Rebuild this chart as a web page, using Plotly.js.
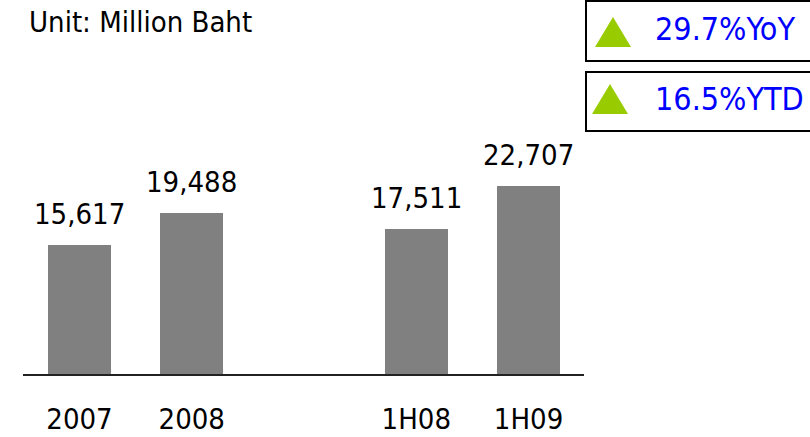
<!DOCTYPE html>
<html>
<head>
<meta charset="utf-8">
<script src="https://cdn.plot.ly/plotly-3.0.1.min.js"></script>
<style>
  html, body { margin: 0; padding: 0; background: #fff; }
  #chart { width: 810px; height: 437px; }
</style>
</head>
<body>
<div id="chart"></div>
<script>
// Revenue by period (million baht)
const categories = ['2007', '2008', '1H08', '1H09'];
const revenue = [15617, 19488, 17511, 22707];

// Growth callouts
const growthLabels = ['29.7%YoY', '16.5%YTD'];

// Page geometry
const W = 810, H = 437;
const M = { l: 23, r: 226, t: 0, b: 63 };
const plotW = W - M.l - M.r;
const plotH = H - M.t - M.b;
const px = x => (x - M.l) / plotW;          // pixel column -> paper x
const py = y => (H - M.b - y) / plotH;      // pixel row -> paper y

// Annual bars, an empty slot, then the half-year bars
const slots = categories.map((c, i) => i + (i >= 2 ? 1 : 0));

const FONT = '"DejaVu Sans Condensed", "DejaVu Sans", sans-serif';
const GREEN = '#99CC00';
const BLUE = '#0000FF';

const trace = {
  type: 'bar',
  x: slots,
  y: revenue,
  width: 0.56,
  marker: { color: '#808080' },
  hoverinfo: 'skip'
};

// Value labels above each bar
const valueNotes = revenue.map((v, i) => ({
  x: slots[i], y: v, xref: 'x', yref: 'y',
  text: v.toLocaleString('en-US'),
  showarrow: false, xanchor: 'center', yanchor: 'bottom', yshift: 12,
  font: { family: FONT, size: 29, color: '#000' }
}));

// Callout boxes at the top right
const boxRows = [{ top: 1, bottom: 61 }, { top: 72, bottom: 131 }];
const triangles = [
  { apexX: 613, apexY: 17, baseY: 47 },
  { apexX: 610, apexY: 84, baseY: 114 }
];
const shapes = [];
boxRows.forEach(b => {
  shapes.push({
    type: 'rect', xref: 'paper', yref: 'paper',
    x0: px(586), x1: px(830), y0: py(b.bottom), y1: py(b.top),
    line: { color: '#000', width: 2 }, fillcolor: 'rgba(0,0,0,0)'
  });
});
triangles.forEach(t => {
  const half = 18;
  const path = 'M ' + px(t.apexX - half) + ' ' + py(t.baseY) +
               ' L ' + px(t.apexX + half) + ' ' + py(t.baseY) +
               ' L ' + px(t.apexX) + ' ' + py(t.apexY) + ' Z';
  shapes.push({
    type: 'path', xref: 'paper', yref: 'paper', path: path,
    fillcolor: GREEN, line: { width: 0 }
  });
});

const calloutNotes = growthLabels.map((txt, i) => ({
  x: px(653), y: py((boxRows[i].top + boxRows[i].bottom) / 2 - 2),
  xref: 'paper', yref: 'paper',
  text: txt, showarrow: false, xanchor: 'left', yanchor: 'middle',
  font: { family: FONT, size: 32, color: BLUE }
}));

const unitNote = {
  x: px(27), y: py(3), xref: 'paper', yref: 'paper',
  text: 'Unit: Million Baht', showarrow: false,
  xanchor: 'left', yanchor: 'top',
  font: { family: FONT, size: 29, color: '#000' }
};

const layout = {
  width: W, height: H,
  margin: M,
  paper_bgcolor: '#fff', plot_bgcolor: '#fff',
  showlegend: false,
  bargap: 0,
  xaxis: {
    range: [-0.503, 4.494],
    tickmode: 'array', tickvals: slots, ticktext: categories,
    ticks: '', ticklabelstandoff: 19,
    showline: true, linecolor: '#222', linewidth: 1.5,
    showgrid: false, zeroline: false, fixedrange: true,
    tickfont: { family: FONT, size: 29, color: '#000' }
  },
  yaxis: {
    range: [0, 45200], visible: false,
    showgrid: false, zeroline: false, fixedrange: true
  },
  shapes: shapes,
  annotations: valueNotes.concat(calloutNotes, [unitNote])
};

Plotly.newPlot('chart', [trace], layout, { staticPlot: true, displayModeBar: false });
</script>
</body>
</html>
